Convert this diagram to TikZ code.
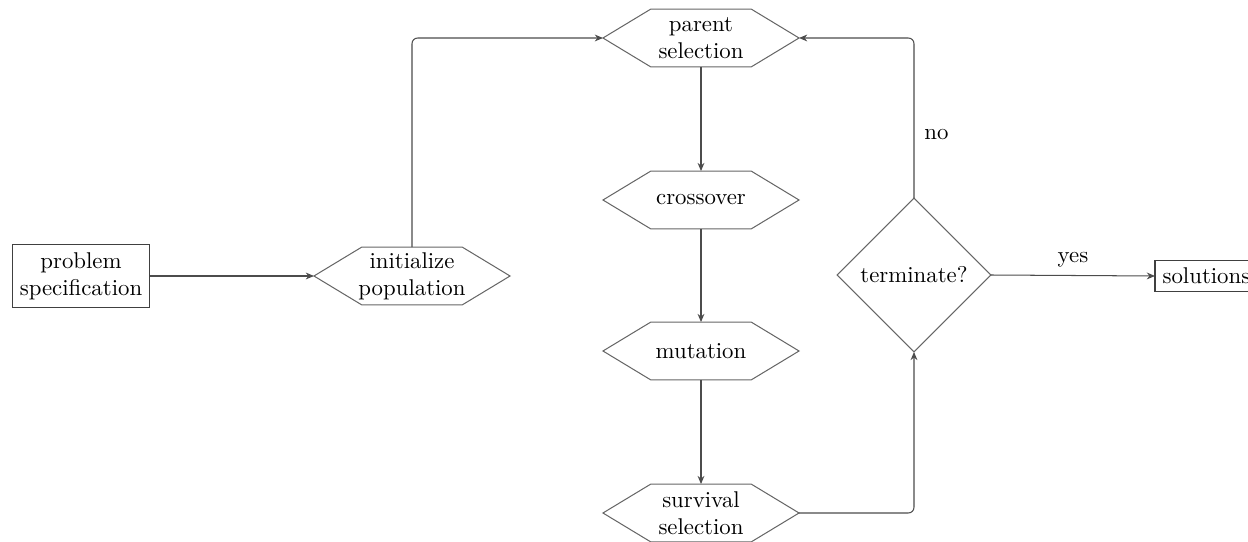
\documentclass[tikz,border=0pt]{standalone}
\usetikzlibrary{arrows.meta,shapes.geometric,calc}
\begin{document}
\begin{tikzpicture}[x=0.4386pt,y=-0.4386pt,
  line width=0.45pt,
  shapeline/.style={draw=black!60},
  boxnode/.style={draw=black!75, align=center, outer sep=0pt},
  hexnode/.style={minimum width=86pt, minimum height=25.4pt, inner sep=0pt, outer sep=0pt, align=center},
  decision/.style={diamond, draw=black!60, minimum width=67.5pt, minimum height=67.5pt, inner sep=0pt, outer sep=0pt},
  conn/.style={draw=black!70, rounded corners=2.5pt, -{Stealth[length=3.6pt,width=3pt]}},
  lbl/.style={font=\normalsize}
]
\useasboundingbox (0,0) rectangle (1248,542);

\node[boxnode] (prob) at (81,276) {problem\\specification};
\node[hexnode] (init) at (412,276) {initialize\\population};
\node[hexnode] (parent) at (701,38) {parent\\selection};
\node[hexnode] (cross) at (701,200) {crossover};
\node[hexnode] (mut) at (701,351) {mutation};
\node[hexnode] (surv) at (701,513) {survival\\selection};
\node[decision] (term) at (914,275) {terminate?};
\node[boxnode, anchor=west] (sol) at (1155,276) {solutions};

\foreach \n in {init,parent,cross,mut,surv}{
  \draw[shapeline] (\n.west) -- ($(\n.north west)+(21pt,0)$) -- ($(\n.north east)+(-21pt,0)$)
    -- (\n.east) -- ($(\n.south east)+(-21pt,0)$) -- ($(\n.south west)+(21pt,0)$) -- cycle;
}

\draw[conn] (prob.east) -- (init.west);
\draw[conn] (init.north) |- (parent.west);
\draw[conn] (parent.south) -- (cross.north);
\draw[conn] (cross.south) -- (mut.north);
\draw[conn] (mut.south) -- (surv.north);
\draw[conn] (surv.east) -| (term.south);
\draw[conn] (term.north) |- node[pos=0.2, right=1pt, lbl] {no} (parent.east);
\draw[conn] (term.east) -- node[midway, above, lbl] {yes} (sol.west);
\end{tikzpicture}
\end{document}
